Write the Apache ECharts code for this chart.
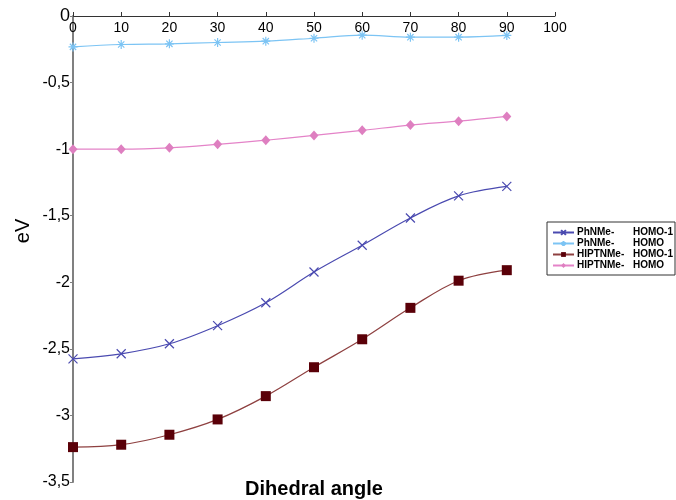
<!DOCTYPE html>
<html><head><meta charset="utf-8">
<script src="https://cdn.jsdelivr.net/npm/echarts@6/dist/echarts.min.js"></script>
<style>html,body{margin:0;padding:0;background:#fff}#c{width:676px;height:500px}</style>
</head><body><div id="c"></div>
<script>
const angles = [0, 10, 20, 30, 40, 50, 60, 70, 80, 90];
const phHomo1 = [-2.575, -2.537, -2.462, -2.326, -2.154, -1.923, -1.722, -1.517, -1.351, -1.28];
const phHomo = [-0.232, -0.214, -0.209, -0.199, -0.189, -0.167, -0.144, -0.159, -0.159, -0.146];
const hiHomo1 = [-3.238, -3.22, -3.145, -3.03, -2.855, -2.638, -2.428, -2.192, -1.988, -1.909];
const hiHomo = [-1.0, -1.0, -0.99, -0.964, -0.933, -0.897, -0.859, -0.819, -0.79, -0.754];
const seriesNames = ['PhNMe-    HOMO-1', 'PhNMe-    HOMO', 'HIPTNMe-  HOMO-1', 'HIPTNMe-  HOMO'];
const yTicks = ['0', '-0,5', '-1', '-1,5', '-2', '-2,5', '-3', '-3,5'];

const pairs = a => angles.map((x, i) => [x, a[i]]);
const xPath = 'path://M0,0L10,10M10,0L0,10';
const starPath = 'path://M5,0L5,10M0,5L10,5M1.5,1.5L8.5,8.5M8.5,1.5L1.5,8.5';
const FONT = 'Liberation Sans, Arial, sans-serif';

const chart = echarts.init(document.getElementById('c'));
chart.setOption({
  animation: false,
  backgroundColor: '#fff',
  textStyle: {fontFamily: FONT},
  grid: {left: 73, right: 121, top: 16, bottom: 18},
  xAxis: {
    type: 'value', min: 0, max: 100, interval: 10, position: 'top',
    axisLine: {lineStyle: {color: '#333', width: 1}},
    axisTick: {show: true, length: 4, lineStyle: {color: '#333'}},
    splitLine: {show: false},
    axisLabel: {inside: true, color: '#000', fontSize: 14, margin: 5}
  },
  yAxis: {
    type: 'value', min: -3.5, max: 0, interval: 0.5,
    axisLine: {show: true, lineStyle: {color: '#808080', width: 2}},
    axisTick: {show: true, length: 3, lineStyle: {color: '#808080'}},
    splitLine: {show: false},
    axisLabel: {color: '#000', fontSize: 16, margin: 3,
      formatter: v => { const i = Math.round(-v / 0.5); return i === 0 ? '{big|0}' : yTicks[i]; },
      rich: {big: {fontSize: 18, color: '#000'}}}
  },
  legend: {
    orient: 'vertical', left: 547, top: 222,
    padding: [5, 2, 4, 5], itemGap: 0, itemWidth: 21, itemHeight: 6,
    borderColor: '#333', borderWidth: 1,
    data: seriesNames,
    formatter: n => { const p = n.split(/\s+/); return '{a|' + p[0] + '}{b|' + p[1] + '}'; },
    textStyle: {
      fontSize: 10, fontWeight: 'bold', color: '#000', lineHeight: 11,
      padding: [0, 0, 0, -2],
      rich: {a: {width: 56, fontSize: 10, fontWeight: 'bold', lineHeight: 11},
             b: {fontSize: 10, fontWeight: 'bold', lineHeight: 11}}
    }
  },
  graphic: [
    {type: 'text', x: 314, y: 489,
      style: {text: 'Dihedral angle', font: 'bold 20px ' + FONT, fill: '#000',
        align: 'center', verticalAlign: 'middle'}},
    {type: 'text', x: 23, y: 231, rotation: Math.PI / 2,
      style: {text: 'eV', font: '20px ' + FONT, fill: '#000',
        align: 'center', verticalAlign: 'middle'}}
  ],
  series: [
    {name: seriesNames[0], type: 'line', smooth: 0.35, data: pairs(phHomo1),
      symbol: xPath, symbolSize: 9,
      lineStyle: {color: '#4a4ab0', width: 1.2},
      itemStyle: {color: '#4a4ab0', borderColor: '#4a4ab0', borderWidth: 1.2}},
    {name: seriesNames[1], type: 'line', smooth: 0.35, data: pairs(phHomo),
      symbol: starPath, symbolSize: 9,
      lineStyle: {color: '#7cc4f4', width: 1.2},
      itemStyle: {color: '#7cc4f4', borderColor: '#7cc4f4', borderWidth: 1.2}},
    {name: seriesNames[2], type: 'line', smooth: 0.35, data: pairs(hiHomo1),
      symbol: 'rect', symbolSize: 10,
      lineStyle: {color: '#8e4040', width: 1.2},
      itemStyle: {color: '#5a0008'}},
    {name: seriesNames[3], type: 'line', smooth: 0.35, data: pairs(hiHomo),
      symbol: 'diamond', symbolSize: [9, 10],
      lineStyle: {color: '#e483c8', width: 1.2},
      itemStyle: {color: '#de7fc0'}}
  ]
});
</script></body></html>
